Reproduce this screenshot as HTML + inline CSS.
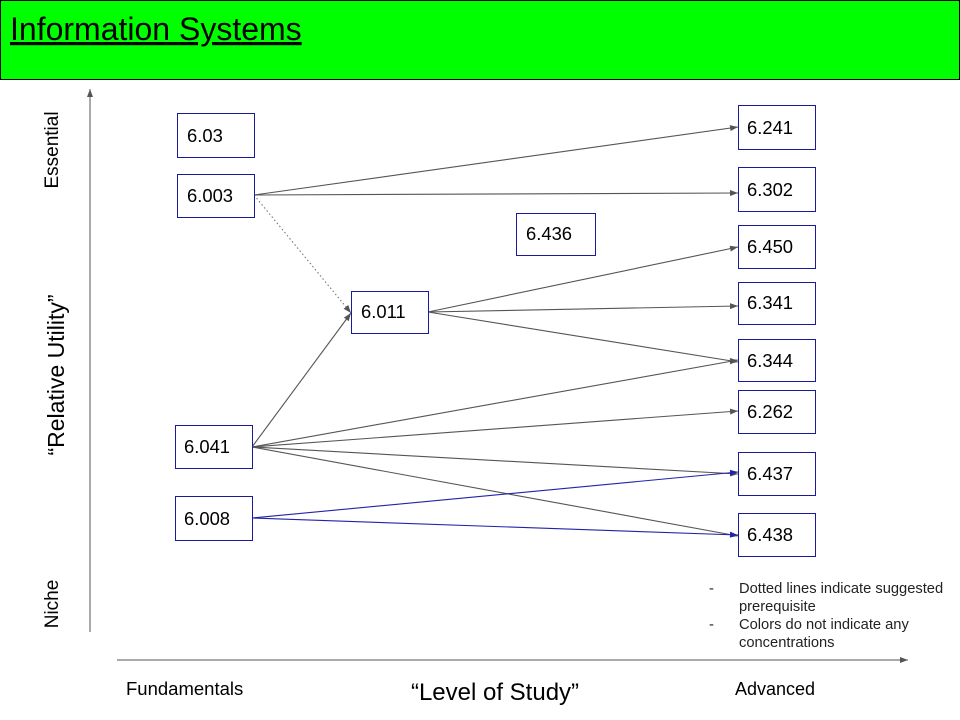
<!DOCTYPE html>
<html><head><meta charset="utf-8"><style>
body{margin:0;width:960px;height:720px;background:#fff;overflow:hidden;font-family:"Liberation Sans",Arial,sans-serif}
svg{display:block}
</style></head><body>
<svg width="960" height="720" viewBox="0 0 960 720">
<defs>
<marker id="ag" markerWidth="8" markerHeight="6" refX="8" refY="3" orient="auto" markerUnits="userSpaceOnUse"><path d="M0,0 L8,3 L0,6z" fill="#555"/></marker>
<marker id="ab" markerWidth="8" markerHeight="6" refX="8" refY="3" orient="auto" markerUnits="userSpaceOnUse"><path d="M0,0 L8,3 L0,6z" fill="#2222aa"/></marker>
</defs>
<rect x="0.5" y="0.5" width="959" height="79" fill="#00ff00" stroke="#000"/>
<text x="10" y="40" font-size="32" text-decoration="underline" fill="#000">Information Systems</text>
<line x1="90" y1="632" x2="90" y2="89" stroke="#555" marker-end="url(#ag)"/>
<line x1="117" y1="660" x2="908" y2="660" stroke="#555" marker-end="url(#ag)"/>
<text transform="translate(58,150) rotate(-90)" text-anchor="middle" font-size="19">Essential</text>
<text transform="translate(58,604) rotate(-90)" text-anchor="middle" font-size="19">Niche</text>
<text transform="translate(64,375) rotate(-90)" text-anchor="middle" font-size="23">“Relative Utility”</text>
<text x="126" y="695" font-size="18.5">Fundamentals</text>
<text x="495" y="700" text-anchor="middle" font-size="24">“Level of Study”</text>
<text x="735" y="695" font-size="18">Advanced</text>
<g font-size="14.7" fill="#222">
<text x="709" y="593">-</text><text x="739" y="593">Dotted lines indicate suggested</text>
<text x="739" y="611">prerequisite</text>
<text x="709" y="629">-</text><text x="739" y="629">Colors do not indicate any</text>
<text x="739" y="647">concentrations</text>
</g>
<g stroke-width="1.1" fill="none">
<line x1="254" y1="195" x2="738" y2="127" stroke="#555" marker-end="url(#ag)"/>
<line x1="254" y1="195" x2="738" y2="193" stroke="#555" marker-end="url(#ag)"/>
<line x1="254" y1="195" x2="351" y2="313" stroke="#777" stroke-dasharray="1.5,2.5" marker-end="url(#ag)"/>
<line x1="252" y1="447" x2="351" y2="313" stroke="#555" marker-end="url(#ag)"/>
<line x1="252" y1="447" x2="738" y2="360" stroke="#555" marker-end="url(#ag)"/>
<line x1="252" y1="447" x2="738" y2="411" stroke="#555" marker-end="url(#ag)"/>
<line x1="252" y1="447" x2="738" y2="474" stroke="#555" marker-end="url(#ag)"/>
<line x1="252" y1="447" x2="738" y2="536" stroke="#555" marker-end="url(#ag)"/>
<line x1="428" y1="312" x2="738" y2="247" stroke="#555" marker-end="url(#ag)"/>
<line x1="428" y1="312" x2="738" y2="306" stroke="#555" marker-end="url(#ag)"/>
<line x1="428" y1="312" x2="738" y2="362" stroke="#555" marker-end="url(#ag)"/>
<line x1="252" y1="518" x2="738" y2="472" stroke="#2222aa" marker-end="url(#ab)"/>
<line x1="252" y1="518" x2="738" y2="535" stroke="#2222aa" marker-end="url(#ab)"/>
</g>
<g font-size="18.4" fill="#000">
<g><rect x="177.5" y="113.5" width="77" height="44" fill="#fff" stroke="#1a1a9a"/><text x="187" y="142">6.03</text></g>
<g><rect x="177.5" y="174.5" width="77" height="43" fill="#fff" stroke="#1a1a9a"/><text x="187" y="202">6.003</text></g>
<g><rect x="351.5" y="291.5" width="77" height="42" fill="#fff" stroke="#1a1a9a"/><text x="361" y="318">6.011</text></g>
<g><rect x="516.5" y="213.5" width="79" height="42" fill="#fff" stroke="#1a1a9a"/><text x="526" y="240">6.436</text></g>
<g><rect x="175.5" y="425.5" width="77" height="43" fill="#fff" stroke="#1a1a9a"/><text x="184" y="453">6.041</text></g>
<g><rect x="175.5" y="496.5" width="77" height="44" fill="#fff" stroke="#1a1a9a"/><text x="184" y="525">6.008</text></g>
<g><rect x="738.5" y="105.5" width="77" height="44" fill="#fff" stroke="#1a1a9a"/><text x="747" y="134">6.241</text></g>
<g><rect x="738.5" y="167.5" width="77" height="44" fill="#fff" stroke="#1a1a9a"/><text x="747" y="196">6.302</text></g>
<g><rect x="738.5" y="225.5" width="77" height="43" fill="#fff" stroke="#1a1a9a"/><text x="747" y="253">6.450</text></g>
<g><rect x="738.5" y="282.5" width="77" height="42" fill="#fff" stroke="#1a1a9a"/><text x="747" y="309">6.341</text></g>
<g><rect x="738.5" y="339.5" width="77" height="42" fill="#fff" stroke="#1a1a9a"/><text x="747" y="367">6.344</text></g>
<g><rect x="738.5" y="390.5" width="77" height="43" fill="#fff" stroke="#1a1a9a"/><text x="747" y="418">6.262</text></g>
<g><rect x="738.5" y="452.5" width="77" height="43" fill="#fff" stroke="#1a1a9a"/><text x="747" y="480">6.437</text></g>
<g><rect x="738.5" y="513.5" width="77" height="43" fill="#fff" stroke="#1a1a9a"/><text x="747" y="541">6.438</text></g>
</g>
</svg>
</body></html>
